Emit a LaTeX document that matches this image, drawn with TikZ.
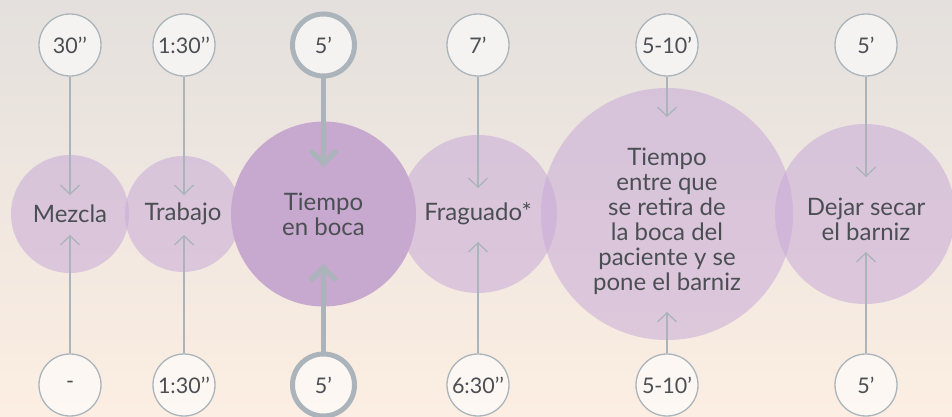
\documentclass[tikz,border=0pt]{standalone}
\usepackage{fontspec}
\setmainfont{Lato}
\usetikzlibrary{arrows.meta}
\definecolor{bgtop}{RGB}{228,224,221}
\definecolor{bgbot}{RGB}{252,238,226}
\definecolor{ring}{RGB}{170,180,186}
\definecolor{lilac}{RGB}{200,170,215}
\definecolor{lilacdark}{RGB}{199,168,206}
\definecolor{txt}{RGB}{75,79,84}
\begin{document}
\begin{tikzpicture}[x=1pt,y=-1pt,
  bigc/.style={circle, fill=lilac, fill opacity=0.55, text opacity=1, text=txt,
    inner sep=0pt, minimum size=#1, align=center,
    font=\fontsize{24}{25}\selectfont},
  midc/.style={circle, fill=lilacdark, text=txt, inner sep=0pt, minimum size=#1,
    align=center, font=\fontsize{24}{25}\selectfont},
  timec/.style={circle, draw=ring, line width=1.3pt, fill=white, fill opacity=0.6,
    text opacity=1, text=txt, inner sep=0pt, minimum size=62pt,
    font=\fontsize{21.5}{24}\selectfont},
  timethick/.style={timec, line width=5pt},
  thinarrow/.style={draw=ring, line width=1.3pt,
    -{Straight Barb[length=9pt, width=19pt, line width=1.3pt]}},
  thickarrow/.style={draw=ring, line width=5pt,
    -{Straight Barb[length=13pt, width=26pt, line width=5pt]}}
]
\useasboundingbox (0,0) rectangle (952,417);
\shade[top color=bgtop, bottom color=bgbot] (0,0) rectangle (952,417);

% big circles
\node[bigc=118pt] (mez) at (70,214) {Mezcla};
\node[bigc=116pt] (tra) at (183,214) {Trabajo};
\node[bigc=158pt] (fra) at (478,214) {Fraguado*};
\node[bigc=252pt] (ret) at (667,214) {};
\node[bigc=180pt] (sec) at (865,214) {};
\node[midc=185pt] (boc) at (323.5,214) {Tiempo\\en boca};
\node[text=txt, align=center, font=\fontsize{24}{25}\selectfont] (rettxt) at (667,221)
  {Tiempo\\entre que\\se retira de\\la boca del\\paciente y se\\pone el barniz};
\node[text=txt, align=center, font=\fontsize{24}{25}\selectfont] (sectxt) at (866,219)
  {Dejar secar\\el barniz};

% top time circles
\node[timec] (a1) at (70,45) {30’’};
\node[timec] (a2) at (184,45) {1:30’’};
\node[timethick] (a3) at (323.5,45) {5’};
\node[timec] (a4) at (478,45) {7’};
\node[timec] (a5) at (667,45) {5-10’};
\node[timec] (a6) at (866,45) {5’};
% bottom time circles
\node[timec] (b1) at (70,385) {-};
\node[timec] (b2) at (184,385) {1:30’’};
\node[timethick] (b3) at (323.5,385) {5’};
\node[timec] (b4) at (478,385) {6:30’’};
\node[timec] (b5) at (667,385) {5-10’};
\node[timec] (b6) at (866,385) {5’};

% tips
\coordinate (p1) at (70,195);   \coordinate (q1) at (70,235);
\coordinate (p2) at (184,195);  \coordinate (q2) at (184,235);
\coordinate (p3) at (323.5,167);\coordinate (q3) at (323.5,264);
\coordinate (p4) at (478,188);  \coordinate (q4) at (478,242);
\coordinate (p5) at (667,117);  \coordinate (q5) at (667,312);
\coordinate (p6) at (866,177);  \coordinate (q6) at (866,252);

\draw[thinarrow] (a1.south) -- (p1);
\draw[thinarrow] (a2.south) -- (p2);
\draw[thickarrow] (a3.south) -- (p3);
\draw[thinarrow] (a4.south) -- (p4);
\draw[thinarrow] (a5.south) -- (p5);
\draw[thinarrow] (a6.south) -- (p6);
\draw[thinarrow] (b1.north) -- (q1);
\draw[thinarrow] (b2.north) -- (q2);
\draw[thickarrow] (b3.north) -- (q3);
\draw[thinarrow] (b4.north) -- (q4);
\draw[thinarrow] (b5.north) -- (q5);
\draw[thinarrow] (b6.north) -- (q6);
\end{tikzpicture}
\end{document}
